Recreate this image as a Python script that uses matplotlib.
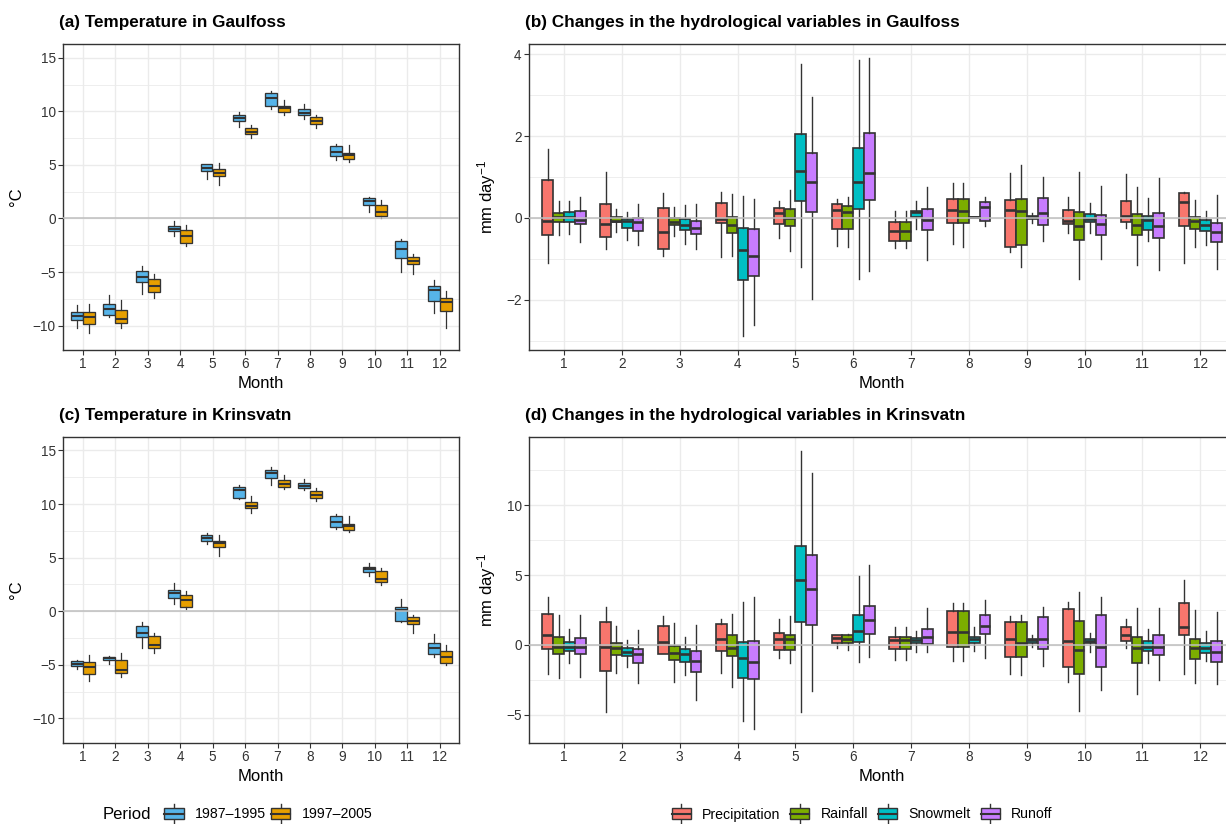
import matplotlib
matplotlib.use("Agg")
import matplotlib.pyplot as plt
from matplotlib.patches import Rectangle, Patch
from matplotlib.lines import Line2D
from matplotlib.legend_handler import HandlerBase

plt.rcParams['font.family'] = ['Liberation Sans', 'DejaVu Sans']
plt.rcParams['mathtext.default'] = 'regular'

months = list(range(1, 13))
periods = ["1987\u20131995", "1997\u20132005"]
period_colors = ["#56B4E9", "#E69F00"]
variables = ["Precipitation", "Rainfall", "Snowmelt", "Runoff"]
var_colors = ["#F8766D", "#7CAE00", "#00BFC4", "#C77CFF"]

# Monthly box summaries: (lower whisker, Q1, median, Q3, upper whisker)
gaul_temp_p1 = [(-10.26, -9.48, -9.11, -8.71, -8.08), (-9.17, -8.96, -8.46, -8.02, -7.15),
                (-7.00, -5.97, -5.50, -4.88, -4.45), (-1.65, -1.15, -0.96, -0.68, -0.22),
                (3.67, 4.45, 4.73, 5.04, 5.10), (8.49, 9.11, 9.39, 9.67, 9.89),
                (10.23, 10.48, 11.23, 11.72, 11.91), (9.30, 9.61, 9.86, 10.20, 10.67),
                (5.50, 5.81, 6.22, 6.72, 6.93), (0.65, 1.24, 1.59, 1.90, 2.02),
                (-4.98, -3.67, -2.89, -2.08, -1.87), (-8.86, -7.68, -6.69, -6.31, -5.75)]
gaul_temp_p2 = [(-10.73, -9.86, -9.20, -8.77, -8.02), (-10.26, -9.79, -9.42, -8.55, -7.62),
                (-7.40, -6.90, -6.31, -5.69, -5.22), (-2.55, -2.33, -1.59, -1.03, -0.62),
                (3.11, 3.98, 4.29, 4.63, 5.22), (7.52, 7.90, 8.05, 8.40, 8.71),
                (9.64, 9.89, 10.29, 10.54, 11.04), (8.46, 8.77, 9.05, 9.45, 9.70),
                (5.29, 5.53, 5.88, 6.09, 6.81), (0.00, 0.25, 0.59, 1.27, 1.77),
                (-5.22, -4.29, -4.01, -3.61, -3.33), (-10.26, -8.64, -7.77, -7.40, -6.78)]
krin_temp_p1 = [(-5.37, -5.12, -4.91, -4.66, -4.57), (-4.97, -4.60, -4.41, -4.25, -4.19),
                (-3.42, -2.42, -2.02, -1.37, -1.02), (0.68, 1.24, 1.71, 2.02, 2.64),
                (6.24, 6.55, 6.80, 7.11, 7.30), (10.47, 10.56, 11.27, 11.58, 11.77),
                (11.77, 12.39, 12.89, 13.20, 13.42), (11.34, 11.46, 11.65, 11.96, 12.33),
                (7.67, 7.83, 8.35, 8.85, 9.07), (3.32, 3.70, 3.94, 4.13, 4.50),
                (-1.02, -0.96, 0.12, 0.43, 1.18), (-4.25, -3.98, -3.42, -2.98, -2.17)]
krin_temp_p2 = [(-6.52, -5.84, -5.22, -4.75, -4.10), (-6.12, -5.81, -5.50, -4.60, -3.88),
                (-3.88, -3.42, -3.11, -2.36, -2.02), (0.22, 0.40, 1.02, 1.55, 1.93),
                (5.19, 5.99, 6.34, 6.58, 7.14), (9.16, 9.63, 9.78, 10.16, 10.78),
                (11.40, 11.61, 11.89, 12.24, 12.73), (10.31, 10.53, 10.81, 11.24, 11.49),
                (7.36, 7.58, 7.92, 8.14, 8.85), (2.48, 2.73, 3.01, 3.76, 4.04),
                (-2.02, -1.18, -0.87, -0.53, -0.31), (-5.03, -4.84, -4.29, -3.73, -3.20)]

gaul_precip = [(-1.11, -0.42, -0.07, 0.93, 1.68), (-0.76, -0.47, -0.14, 0.33, 1.11),
               (-0.93, -0.76, -0.35, 0.23, 0.60), (-0.96, -0.12, -0.02, 0.37, 0.63),
               (-0.50, -0.14, 0.13, 0.25, 0.41), (-0.68, -0.28, 0.20, 0.33, 0.46),
               (-0.74, -0.57, -0.33, -0.11, 0.17), (-0.64, -0.13, 0.19, 0.47, 0.85),
               (-0.83, -0.72, 0.20, 0.44, 1.10), (-0.37, -0.15, -0.07, 0.20, 0.50),
               (-0.25, -0.11, 0.05, 0.41, 1.07), (-1.11, -0.19, 0.40, 0.60, 0.64)]
gaul_rain = [(-0.42, -0.09, 0.02, 0.11, 0.41), (-0.35, -0.11, -0.07, 0.02, 0.21),
             (-0.44, -0.18, -0.11, 0.00, 0.26), (-0.94, -0.38, -0.17, 0.03, 0.59),
             (-0.80, -0.20, 0.00, 0.21, 0.68), (-0.72, -0.28, 0.14, 0.30, 0.52),
             (-0.74, -0.57, -0.33, -0.11, 0.17), (-0.72, -0.13, 0.16, 0.47, 0.85),
             (-1.19, -0.67, 0.18, 0.46, 1.30), (-1.50, -0.54, -0.20, 0.14, 1.12),
             (-1.16, -0.43, -0.17, 0.09, 0.75), (-0.70, -0.27, -0.07, 0.03, 0.43)]
gaul_snow = [(-0.39, -0.10, 0.02, 0.15, 0.41), (-0.55, -0.24, -0.07, -0.03, 0.15),
             (-0.64, -0.29, -0.18, -0.02, 0.31), (-2.88, -1.53, -0.79, -0.25, 0.54),
             (-1.19, 0.41, 1.14, 2.04, 3.77), (-1.50, 0.22, 0.87, 1.70, 3.85),
             (-0.26, 0.02, 0.14, 0.18, 0.41), (0.00, 0.00, 0.01, 0.02, 0.02),
             (-0.13, -0.02, 0.02, 0.04, 0.13), (-0.37, -0.10, -0.02, 0.09, 0.36),
             (-0.57, -0.29, -0.06, 0.05, 0.49), (-0.67, -0.32, -0.18, -0.06, 0.17)]
gaul_runoff = [(-0.59, -0.15, -0.05, 0.16, 0.52), (-0.67, -0.32, -0.11, -0.01, 0.34),
               (-0.76, -0.39, -0.24, -0.07, 0.35), (-2.61, -1.41, -0.93, -0.28, 0.46),
               (-1.98, 0.15, 0.87, 1.59, 2.96), (-1.31, 0.43, 1.10, 2.08, 3.91),
               (-1.03, -0.30, -0.05, 0.22, 0.75), (-0.19, -0.08, 0.27, 0.38, 0.52),
               (-0.56, -0.18, 0.11, 0.48, 1.01), (-1.00, -0.42, -0.15, 0.07, 0.77),
               (-1.27, -0.48, -0.20, 0.11, 0.97), (-1.25, -0.59, -0.35, -0.13, 0.56)]

krin_precip = [(-2.08, -0.26, 0.72, 2.20, 3.41), (-4.77, -1.86, -0.17, 1.67, 2.74),
               (-0.62, -0.62, 0.19, 1.34, 2.08), (-2.00, -0.45, 0.41, 1.53, 1.84),
               (-0.91, -0.33, 0.45, 0.84, 1.84), (-0.24, 0.12, 0.48, 0.69, 0.72),
               (-1.07, -0.31, 0.33, 0.55, 1.26), (-1.12, -0.17, 0.91, 2.43, 3.01),
               (-2.08, -0.84, 0.41, 1.62, 2.08), (-2.63, -1.60, 0.29, 2.60, 3.08),
               (-0.24, 0.26, 0.72, 1.26, 1.86), (-2.10, 0.69, 1.26, 3.01, 4.65)]
krin_rain = [(-2.34, -0.62, -0.12, 0.55, 2.17), (-2.03, -0.74, -0.24, 0.14, 1.34),
             (-2.65, -1.07, -0.55, -0.05, 1.55), (-2.98, -0.79, -0.24, 0.69, 2.24),
             (-1.26, -0.36, 0.41, 0.74, 2.10), (-0.36, 0.12, 0.41, 0.72, 0.76),
             (-1.07, -0.31, 0.33, 0.55, 1.26), (-1.12, -0.17, 0.91, 2.43, 3.01),
             (-2.15, -0.88, 0.14, 1.62, 2.15), (-4.73, -2.08, -0.33, 1.69, 3.82),
             (-3.51, -1.31, -0.24, 0.55, 2.65), (-2.70, -1.03, -0.21, 0.41, 2.51)]
krin_snow = [(-1.29, -0.41, -0.17, 0.19, 1.12), (-1.55, -0.79, -0.48, -0.24, 0.36),
             (-2.15, -1.24, -0.64, -0.26, 0.60), (-5.42, -2.39, -0.95, 0.21, 3.05),
             (-4.82, 1.65, 4.65, 7.11, 13.89), (-1.19, 0.19, 1.03, 2.12, 4.94),
             (-0.48, 0.12, 0.36, 0.48, 0.98), (-0.41, 0.14, 0.41, 0.60, 1.26),
             (-0.12, 0.17, 0.33, 0.45, 0.72), (-0.50, 0.12, 0.29, 0.41, 0.88),
             (-1.26, -0.41, -0.12, 0.26, 1.12), (-1.15, -0.60, -0.19, 0.17, 1.00)]
krin_runoff = [(-2.32, -0.62, -0.12, 0.53, 2.17), (-2.74, -1.26, -0.64, -0.26, 1.07),
               (-3.94, -1.91, -1.12, -0.41, 1.41), (-6.04, -2.46, -1.22, 0.29, 3.41),
               (-3.29, 1.46, 4.03, 6.42, 12.34), (-0.88, 0.79, 1.77, 2.79, 5.70),
               (-0.53, 0.07, 0.55, 1.12, 2.65), (-0.95, 0.81, 1.38, 2.17, 3.22),
               (-1.48, -0.26, 0.43, 2.03, 2.74), (-3.22, -1.55, -0.17, 2.12, 3.41),
               (-2.51, -0.72, -0.12, 0.72, 2.67), (-2.79, -1.19, -0.50, 0.29, 2.36)]

EDGE = "#333333"
W, H = 1226, 824

fig = plt.figure(figsize=(W / 100, H / 100), dpi=100)
fig.patch.set_facecolor("white")


def add_panel(left, top, right, bottom):
    return fig.add_axes([left / W, 1 - bottom / H, (right - left) / W, (bottom - top) / H])


def style_axes(ax, ylim, yticks, yminor):
    ax.set_xlim(0.4, 12.6)
    ax.set_ylim(*ylim)
    ax.set_xticks(months)
    ax.set_xticklabels([str(m) for m in months])
    ax.set_yticks(yticks)
    ax.set_yticks(yminor, minor=True)
    ax.grid(which="major", color="#EBEBEB", linewidth=1.0)
    ax.grid(which="minor", axis="y", color="#EBEBEB", linewidth=0.6)
    ax.set_axisbelow(True)
    for sp in ax.spines.values():
        sp.set_color(EDGE)
        sp.set_linewidth(1.0)
    ax.tick_params(which="major", direction="out", length=3.3, width=0.8, color=EDGE,
                   labelsize=9.8, labelcolor="#333333")
    ax.tick_params(axis="x", pad=1.8)
    ax.tick_params(axis="y", pad=2.2)
    ax.tick_params(which="minor", length=0)
    ax.axhline(0, color="#BEBEBE", linewidth=1.1, zorder=6)


def draw_boxes(ax, groups, colors, lw_box, lw_med, lw_whis):
    n = len(groups)
    w = 0.75 / n
    for k, (data, col) in enumerate(zip(groups, colors)):
        off = (k - (n - 1) / 2) * w
        stats = [dict(whislo=d[0], q1=d[1], med=d[2], q3=d[3], whishi=d[4]) for d in data]
        ax.bxp(stats, positions=[m + off for m in months], widths=w * 0.98,
               patch_artist=True, showfliers=False, showcaps=False, manage_ticks=False,
               boxprops=dict(facecolor=col, edgecolor=EDGE, linewidth=lw_box),
               medianprops=dict(color=EDGE, linewidth=lw_med, solid_capstyle="butt"),
               whiskerprops=dict(color=EDGE, linewidth=lw_whis), zorder=3)


panels = [
    dict(box=(63.3, 44, 459.3, 350), title="(a) Temperature in Gaulfoss",
         groups=[gaul_temp_p1, gaul_temp_p2], colors=period_colors, kind="temp"),
    dict(box=(529.3, 44, 1235, 350), title="(b) Changes in the hydrological variables in Gaulfoss",
         groups=[gaul_precip, gaul_rain, gaul_snow, gaul_runoff], colors=var_colors, kind="hyd_b"),
    dict(box=(63.3, 436.7, 459.3, 742.7), title="(c) Temperature in Krinsvatn",
         groups=[krin_temp_p1, krin_temp_p2], colors=period_colors, kind="temp"),
    dict(box=(529.3, 436.7, 1235, 742.7), title="(d) Changes in the hydrological variables in Krinsvatn",
         groups=[krin_precip, krin_rain, krin_snow, krin_runoff], colors=var_colors, kind="hyd_d"),
]

for p in panels:
    l, t, r, b = p["box"]
    ax = add_panel(l, t, r, b)
    if p["kind"] == "temp":
        style_axes(ax, (-12.27, 16.28), [-10, -5, 0, 5, 10, 15], [-7.5, -2.5, 2.5, 7.5, 12.5])
        draw_boxes(ax, p["groups"], p["colors"], 0.95, 1.5, 0.9)
        ylab, ylx = "\u00b0C", 17
    elif p["kind"] == "hyd_b":
        style_axes(ax, (-3.23, 4.25), [-2, 0, 2, 4], [-3, -1, 1, 3])
        draw_boxes(ax, p["groups"], p["colors"], 1.2, 1.9, 1.0)
        ylab, ylx = "mm day$^{-1}$", 487
    else:
        style_axes(ax, (-7.0, 14.91), [-5, 0, 5, 10], [-2.5, 2.5, 7.5, 12.5])
        draw_boxes(ax, p["groups"], p["colors"], 1.2, 1.9, 1.0)
        ylab, ylx = "mm day$^{-1}$", 487
    # panel title, axis titles
    fig.text((l - 4.5) / W, 1 - (t - 17) / H, p["title"], fontsize=12.3, fontweight="bold",
             ha="left", va="baseline", color="black")
    fig.text(((l + min(r, 1235)) / 2) / W, 1 - (b + 38) / H, "Month", fontsize=12,
             ha="center", va="baseline", color="black")
    fig.text(ylx / W, 1 - ((t + b) / 2) / H, ylab, fontsize=12, rotation=90,
             ha="center", va="center", color="black")


class BoxKey(HandlerBase):
    def create_artists(self, legend, orig_handle, xdescent, ydescent, width, height,
                       fontsize, trans):
        x0, y0 = -xdescent, -ydescent
        xm = x0 + width / 2
        ext = 0.33 * height
        whisker = Line2D([xm, xm], [y0 - ext, y0 + height + ext], color=EDGE, lw=1.0,
                         transform=trans)
        rect = Rectangle((x0, y0), width, height, facecolor=orig_handle.get_facecolor(),
                         edgecolor=EDGE, lw=1.0, transform=trans)
        med = Line2D([x0, x0 + width], [y0 + height / 2] * 2, color=EDGE, lw=1.5,
                     transform=trans)
        return [whisker, rect, med]


ly = 1 - 814.5 / H
per_handles = [Patch(facecolor=c) for c in period_colors]
leg1 = fig.legend(per_handles, periods, loc="center", bbox_to_anchor=(268.3 / W, ly),
                  ncol=2, frameon=False, fontsize=10.2, handler_map={Patch: BoxKey()},
                  handlelength=1.35, handleheight=0.86, handletextpad=0.8,
                  columnspacing=0.35, borderpad=0, borderaxespad=0)
fig.text(102.7 / W, ly, "Period", fontsize=12, ha="left", va="center", color="black")

var_handles = [Patch(facecolor=c) for c in var_colors]
leg2 = fig.legend(var_handles, variables, loc="center", bbox_to_anchor=(862.2 / W, ly),
                  ncol=4, frameon=False, fontsize=10.2, handler_map={Patch: BoxKey()},
                  handlelength=1.35, handleheight=0.86, handletextpad=0.8,
                  columnspacing=0.7, borderpad=0, borderaxespad=0)

fig.savefig("out.png", dpi=100)
